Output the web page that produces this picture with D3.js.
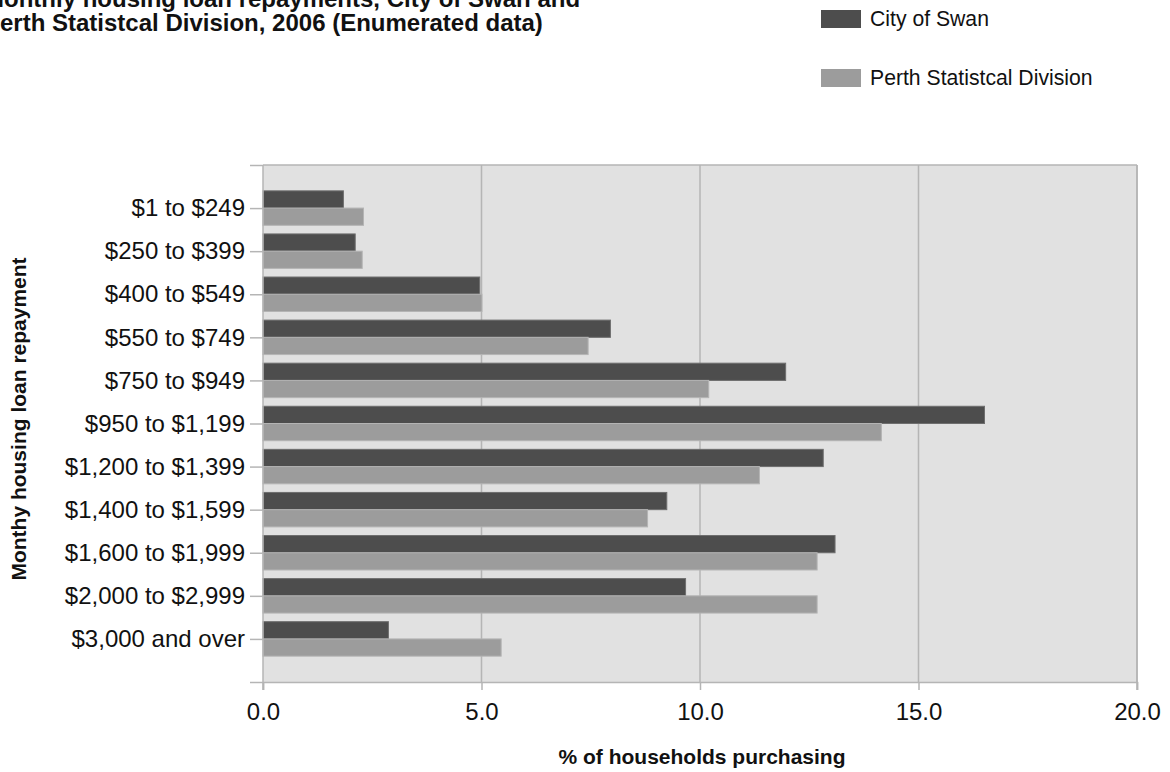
<!DOCTYPE html>
<html>
<head>
<meta charset="utf-8">
<script src="https://cdn.jsdelivr.net/npm/d3@7"></script>
<style>
  html, body { margin: 0; padding: 0; background: #fff; }
  svg { display: block; font-family: "Liberation Sans", Arial, sans-serif; }
</style>
</head>
<body>
<svg id="chart" width="1170" height="772"></svg>
<script>
// Repayment bands (top to bottom)
const categories = [
  "$1 to $249", "$250 to $399", "$400 to $549", "$550 to $749",
  "$750 to $949", "$950 to $1,199", "$1,200 to $1,399", "$1,400 to $1,599",
  "$1,600 to $1,999", "$2,000 to $2,999", "$3,000 and over"
];
// % of households purchasing
const swanValues  = [1.84, 2.11, 4.96, 7.95, 11.96, 16.51, 12.82, 9.24, 13.09, 9.67, 2.87];
const perthValues = [2.30, 2.27, 5.01, 7.44, 10.20, 14.15, 11.36, 8.80, 12.68, 12.68, 5.45];
const seriesNames = ["City of Swan", "Perth Statistcal Division"];
const xTicks = [0, 5, 10, 15, 20];
const titleLines = [
  "Monthly housing loan repayments, City of Swan and",
  "Perth Statistcal Division, 2006 (Enumerated data)"
];

const colors = { swan: "#4d4d4d", perth: "#9c9c9c" };
const strokes = { swan: "#6e6e6e", perth: "#b4b4b4" };

const svg = d3.select("#chart");
const plot = { left: 263, right: 1137, top: 165, bottom: 682 };

const x = d3.scaleLinear().domain([0, 20]).range([plot.left, plot.right]);
// one empty slot above and below the categories
const y = d3.scaleLinear().domain([0, categories.length + 1]).range([plot.top, plot.bottom]);
const barH = 0.4; // in category units

// Plot background
svg.append("rect")
  .attr("x", plot.left).attr("y", plot.top)
  .attr("width", plot.right - plot.left).attr("height", plot.bottom - plot.top)
  .attr("fill", "#e1e1e1");

// Vertical gridlines
svg.append("g").selectAll("line")
  .data(xTicks.slice(1))
  .join("line")
  .attr("x1", d => x(d)).attr("x2", d => x(d))
  .attr("y1", plot.top).attr("y2", plot.bottom)
  .attr("stroke", "#b5b5b5").attr("stroke-width", 1.5);

// Top border
svg.append("line")
  .attr("x1", plot.left).attr("x2", plot.right).attr("y1", plot.top).attr("y2", plot.top)
  .attr("stroke", "#b5b5b5").attr("stroke-width", 1.5);

// Bars
const rows = categories.map((c, i) => ({ c, i, swan: swanValues[i], perth: perthValues[i] }));
const g = svg.append("g");
g.selectAll("rect.swan").data(rows).join("rect")
  .attr("class", "swan")
  .attr("x", x(0))
  .attr("y", d => y(d.i + 1 - barH))
  .attr("width", d => x(d.swan) - x(0))
  .attr("height", y(barH) - y(0))
  .attr("fill", colors.swan).attr("stroke", strokes.swan).attr("stroke-width", 1);
g.selectAll("rect.perth").data(rows).join("rect")
  .attr("class", "perth")
  .attr("x", x(0))
  .attr("y", d => y(d.i + 1))
  .attr("width", d => x(d.perth) - x(0))
  .attr("height", y(barH) - y(0))
  .attr("fill", colors.perth).attr("stroke", strokes.perth).attr("stroke-width", 1);

// X axis
const xAxis = d3.axisBottom(x).tickValues(xTicks).tickFormat(d3.format(".1f"))
  .tickSize(8).tickPadding(13);
const gx = svg.append("g").attr("transform", `translate(0,${plot.bottom})`).call(xAxis);
gx.select(".domain").attr("stroke", "#b5b5b5").attr("stroke-width", 1.5);
gx.selectAll(".tick line").attr("stroke", "#b5b5b5").attr("stroke-width", 1.5);
gx.selectAll(".tick text").attr("font-size", 24).attr("fill", "#111")
  .attr("font-family", "'Liberation Sans', Arial, sans-serif");

// Y axis: ticks at every slot, labels on the categories
const yTicks = d3.range(0, categories.length + 2);
const yAxis = d3.axisLeft(y).tickValues(yTicks)
  .tickFormat(d => (d >= 1 && d <= categories.length) ? categories[d - 1] : "")
  .tickSize(13).tickPadding(5);
const gy = svg.append("g").attr("transform", `translate(${plot.left},0)`).call(yAxis);
gy.select(".domain").attr("stroke", "#b5b5b5").attr("stroke-width", 1.5)
  .attr("d", `M0,${plot.top}V${plot.bottom + 8}`);
gy.selectAll(".tick line").attr("stroke", "#b5b5b5").attr("stroke-width", 1.5);
gy.selectAll(".tick text").attr("font-size", 24).attr("fill", "#111")
  .attr("font-family", "'Liberation Sans', Arial, sans-serif");

// Right border
svg.append("line")
  .attr("x1", plot.right).attr("x2", plot.right).attr("y1", plot.top).attr("y2", plot.bottom + 8)
  .attr("stroke", "#b5b5b5").attr("stroke-width", 1.5);

// Axis titles
svg.append("text")
  .attr("x", 702).attr("y", 764)
  .attr("text-anchor", "middle")
  .attr("font-size", 21).attr("font-weight", "bold").attr("fill", "#111")
  .text("% of households purchasing");
svg.append("text")
  .attr("transform", "translate(26,419) rotate(-90)")
  .attr("text-anchor", "middle")
  .attr("font-size", 21).attr("font-weight", "bold").attr("fill", "#111")
  .text("Monthy housing loan repayment");

// Title (wider than the page, runs off the left edge)
svg.append("g").selectAll("text").data(titleLines).join("text")
  .attr("x", -16).attr("y", (d, i) => 7 + i * 24)
  .attr("font-size", 24).attr("font-weight", "bold").attr("fill", "#111")
  .text(d => d);

// Legend
const legend = svg.append("g");
const legendItems = [
  { name: seriesNames[0], fill: colors.swan, y: 10 },
  { name: seriesNames[1], fill: colors.perth, y: 69 }
];
legend.selectAll("rect").data(legendItems).join("rect")
  .attr("x", 821).attr("y", d => d.y).attr("width", 40).attr("height", 18)
  .attr("fill", d => d.fill);
legend.selectAll("text").data(legendItems).join("text")
  .attr("x", 870).attr("y", d => d.y + 9).attr("dy", "0.35em")
  .attr("font-size", 21.2).attr("fill", "#111")
  .text(d => d.name);
</script>
</body>
</html>
